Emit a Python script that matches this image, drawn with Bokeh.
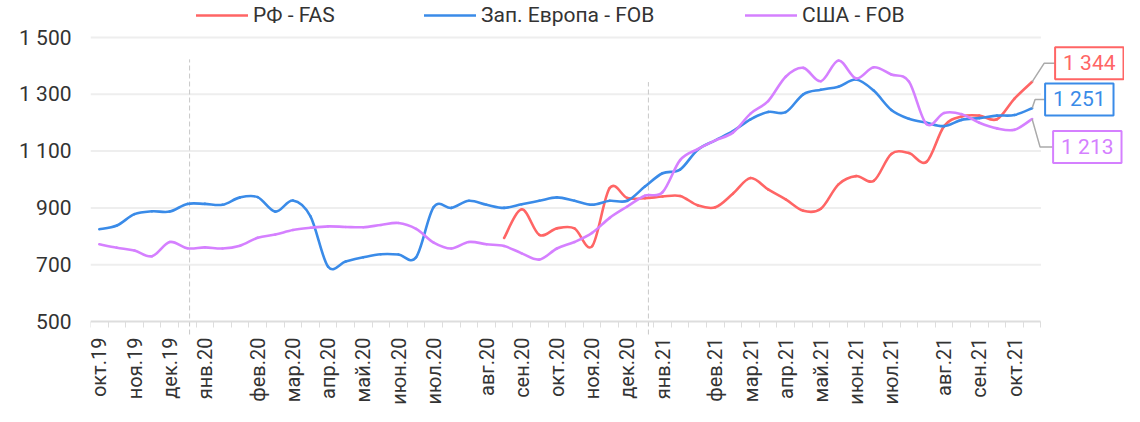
import math
from bokeh.plotting import figure
from bokeh.models import (Range1d, FixedTicker, ColumnDataSource, Label,
                          Legend, LegendItem)
from bokeh.embed import file_html
from bokeh.resources import INLINE

# ---------------- data ----------------
tick_labels = [
    "окт.19", "", "ноя.19", "", "дек.19", "", "янв.20", "", "", "фев.20",
    "", "мар.20", "", "апр.20", "", "май.20", "", "июн.20", "", "июл.20",
    "", "", "авг.20", "", "сен.20", "", "окт.20", "", "ноя.20", "",
    "дек.20", "", "янв.21", "", "", "фев.21", "", "мар.21", "", "апр.21",
    "", "май.21", "", "июн.21", "", "июл.21", "", "", "авг.21", "",
    "сен.21", "", "окт.21", "",
]

rf_fas = [None] * 23 + [
    794, 895, 805, 828, 828, 765, 970, 935, 934, 940,
    942, 909, 902, 950, 1005, 965, 930, 890, 897, 983,
    1012, 995, 1090, 1093, 1062, 1188, 1222, 1225, 1212, 1285,
    1344,
]

eu_fob = [
    825, 838, 878, 888, 887, 914, 914, 911, 937, 938,
    887, 926, 870, 693, 711, 726, 737, 736, 726, 903,
    900, 925, 911, 900, 913, 925, 937, 925, 911, 925,
    925, 975, 1022, 1035, 1105, 1138, 1170, 1212, 1238, 1237,
    1300, 1316, 1327, 1352, 1313, 1245, 1214, 1200, 1188, 1210,
    1216, 1225, 1227, 1251,
]

us_fob = [
    772, 760, 750, 730, 780, 758, 761, 757, 767, 795,
    806, 822, 830, 835, 833, 832, 840, 847, 826, 778,
    757, 780, 772, 766, 740, 718, 757, 780, 812, 865,
    905, 943, 955, 1068, 1107, 1138, 1165, 1232, 1276, 1362,
    1393, 1346, 1419, 1356, 1395, 1370, 1345, 1195, 1234, 1230,
    1200, 1180, 1175, 1213,
]

series_names = ["РФ - FAS", "Зап. Европа - FOB", "США - FOB"]
y_ticks = [500, 700, 900, 1100, 1300, 1500]
guide_x = [5.13, 31.2]
guide_top = [1423, 1343]

# ---------------- layout / style ----------------
colors = ["#FF6565", "#3A8BE8", "#D580FF"]
W, H = 1124, 406
FL = 90            # frame left (px)
AXIS_Y = 321       # pixel row of the value axis base
TOP_Y = 37         # pixel row of the top tick
cell = 17.6        # px per category
n_cat = len(tick_labels)
ybase, ytop = y_ticks[0], y_ticks[-1]
ppv = (AXIS_Y - TOP_Y) / (ytop - ybase)
x0 = -0.5
x1 = x0 + (W - FL) / cell
y0 = ybase - (H - AXIS_Y) / ppv
y1 = ybase + AXIS_Y / ppv


def dx(px):
    return x0 + (px - FL) / cell


def px_x(x):
    return FL + (x - x0) * cell


def dy(py):
    return ybase + (AXIS_Y - py) / ppv


def fmt(v):
    return f"{v:,}".replace(",", " ")


p = figure(width=W, height=H, x_range=Range1d(x0, x1), y_range=Range1d(y0, y1),
           output_backend="svg", toolbar_location=None,
           min_border_left=FL, min_border_right=0, min_border_top=0,
           min_border_bottom=0)
p.outline_line_color = None
p.background_fill_color = "white"
p.border_fill_color = "white"
p.xgrid.visible = False
p.ygrid.visible = False

# grid lines (only over the category span)
gv = y_ticks[1:]
p.segment(x0=[x0] * len(gv), y0=gv, x1=[n_cat - 0.5] * len(gv), y1=gv,
          line_color="#eeeeee", line_width=2)

# guides
p.segment(x0=guide_x, y0=[dy(AXIS_Y + 13)] * len(guide_x), x1=guide_x, y1=guide_top,
          line_color="#c8c8c8", line_width=1, line_dash="5 3")

# x axis: drawn at the base value, labels at category centres
xa = p.xaxis[0]
xa.fixed_location = ybase
lab_idx = [i for i, t in enumerate(tick_labels) if t]
xa.ticker = FixedTicker(ticks=lab_idx, minor_ticks=[i - 0.5 for i in range(n_cat + 1)])
xa.major_label_overrides = {i: tick_labels[i] for i in lab_idx}
xa.bounds = (-0.5, n_cat - 0.5)
xa.axis_line_color = "#dddddd"
xa.axis_line_width = 2
xa.major_tick_line_color = None
xa.major_tick_out = 0
xa.major_tick_in = 0
xa.minor_tick_line_color = "#dddddd"
xa.minor_tick_out = 6
xa.minor_tick_in = 0
xa.major_label_orientation = math.pi / 2
xa.major_label_standoff = 10
xa.major_label_text_font = "Roboto"
xa.major_label_text_font_size = "20px"
xa.major_label_text_color = "#333333"

ya = p.yaxis[0]
ya.ticker = FixedTicker(ticks=y_ticks, minor_ticks=[])
ya.major_label_overrides = {v: fmt(v) for v in y_ticks}
ya.axis_line_color = None
ya.major_tick_line_color = None
ya.minor_tick_line_color = None
ya.major_tick_out = 0
ya.major_tick_in = 0
ya.major_label_standoff = 19
ya.major_label_text_font = "Roboto"
ya.major_label_text_font_size = "21px"
ya.major_label_text_color = "#333333"


def bez(vals):
    pts = [(i, v) for i, v in enumerate(vals) if v is not None]
    n = len(pts)
    out = dict(x0=[], y0=[], x1=[], y1=[], cx0=[], cy0=[], cx1=[], cy1=[])
    for k in range(n - 1):
        p0 = pts[max(k - 1, 0)]
        p1 = pts[k]
        p2 = pts[k + 1]
        p3 = pts[min(k + 2, n - 1)]
        out["x0"].append(p1[0]); out["y0"].append(p1[1])
        out["x1"].append(p2[0]); out["y1"].append(p2[1])
        out["cx0"].append(p1[0] + (p2[0] - p0[0]) / 6)
        out["cy0"].append(p1[1] + (p2[1] - p0[1]) / 6)
        out["cx1"].append(p2[0] - (p3[0] - p1[0]) / 6)
        out["cy1"].append(p2[1] - (p3[1] - p1[1]) / 6)
    return out


all_series = [rf_fas, eu_fob, us_fob]
legend_px = [196, 424, 745]
for name, vals, col, lx in zip(series_names, all_series, colors, legend_px):
    r = p.bezier(source=ColumnDataSource(bez(vals)), x0="x0", y0="y0", x1="x1", y1="y1",
                 cx0="cx0", cy0="cy0", cx1="cx1", cy1="cy1",
                 line_color=col, line_width=2.6, line_cap="round")
    lg = Legend(items=[LegendItem(label=name, renderers=[r])], orientation="horizontal",
                location=(lx - FL, H - 27), glyph_width=52, glyph_height=20,
                label_standoff=5, padding=0, margin=0, border_line_color=None,
                background_fill_alpha=0, label_text_font="Roboto",
                label_text_font_size="21px", label_text_color="#333333",
                label_height=20)
    p.add_layout(lg)

# end-value callouts
last = n_cat - 1
last_px = px_x(last)
box_val = [1409, 1282, 1114]      # value level at which each callout box sits
kink_dx = [12, 3, 8]
box_dx = [23, 13, 21]
cx, cy = [], []
for vals, bv, kd, bd in zip(all_series, box_val, kink_dx, box_dx):
    cx.append([last, dx(last_px + kd), dx(last_px + bd)])
    cy.append([vals[-1], bv, bv])
p.multi_line(xs=cx, ys=cy, line_color="#aaaaaa", line_width=1.5)

for vals, bv, bd, col in zip(all_series, box_val, box_dx, colors):
    p.add_layout(Label(x=dx(last_px + bd), y=bv, text=fmt(vals[-1]),
                       text_align="left", text_baseline="middle",
                       text_font="Roboto", text_font_size="21px", text_color=col,
                       border_line_color=col, border_line_width=2,
                       background_fill_color="white", padding=(8, 4)))

open("out.html", "w").write(file_html(p, INLINE))
